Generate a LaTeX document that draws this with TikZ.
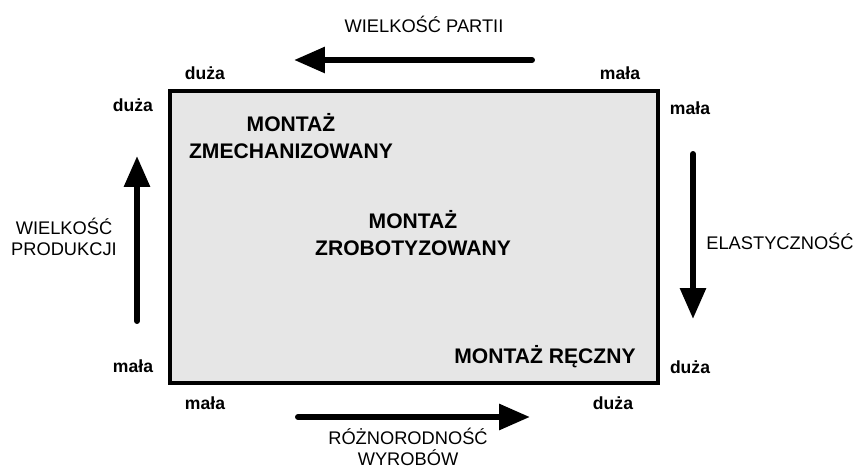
\documentclass[tikz,border=0pt]{standalone}
\usepackage{fontspec}
\setmainfont{Liberation Sans}
\usetikzlibrary{arrows.meta}

\definecolor{boxgray}{RGB}{230,230,230}

\tikzset{
  bigarrow/.style={line width=3.4pt, line cap=round,
    -{Triangle[length=0.62cm, width=0.5cm]}},
  level/.style={font=\fontsize{10}{12}\selectfont\bfseries},
  axislabel/.style={font=\fontsize{10.4}{12.3}\selectfont, align=center, inner sep=1pt},
  method/.style={font=\fontsize{12}{15.5}\selectfont\bfseries, align=center}
}

\begin{document}
\begin{tikzpicture}[x=0.02cm, y=-0.02cm]
    \useasboundingbox (0,0) rectangle (858,469);

    % Main field
    \draw[line width=2.3pt, fill=boxgray] (170,91) rectangle (658,383);

    % Assembly types
    \node[method] (mech) at (291,136) {MONTAŻ\\ZMECHANIZOWANY};
    \node[method] (robot) at (413,233) {MONTAŻ\\ZROBOTYZOWANY};
    \node[method] (manual) at (545,357) {MONTAŻ RĘCZNY};

    % Batch size (top)
    \coordinate (batchTail) at (532,60);
    \coordinate (batchTip) at (294,60);
    \draw[bigarrow] (batchTail) -- (batchTip);
    \node[axislabel] (batch) at (424,24) {WIELKOŚĆ PARTII};
    \node[level] (batchBig) at (205,73) {duża};
    \node[level] (batchSmall) at (620,73) {mała};

    % Production volume (left)
    \coordinate (volTail) at (137,321);
    \coordinate (volTip) at (137,156);
    \draw[bigarrow] (volTail) -- (volTip);
    \node[axislabel] (vol) at (64,237) {WIELKOŚĆ\\PRODUKCJI};
    \node[level] (volBig) at (133,105) {duża};
    \node[level] (volSmall) at (133,366) {mała};

    % Flexibility (right)
    \coordinate (flexTail) at (693,154);
    \coordinate (flexTip) at (693,319);
    \draw[bigarrow] (flexTail) -- (flexTip);
    \node[axislabel] (flex) at (780,241) {ELASTYCZNOŚĆ};
    \node[level] (flexSmall) at (690,108) {mała};
    \node[level] (flexBig) at (690,367) {duża};

    % Product variety (bottom)
    \coordinate (varTail) at (298,417);
    \coordinate (varTip) at (530,417);
    \draw[bigarrow] (varTail) -- (varTip);
    \node[axislabel] (var) at (408,447) {RÓŻNORODNOŚĆ\\WYROBÓW};
    \node[level] (varSmall) at (205,403) {mała};
    \node[level] (varBig) at (613,403) {duża};
\end{tikzpicture}
\end{document}
